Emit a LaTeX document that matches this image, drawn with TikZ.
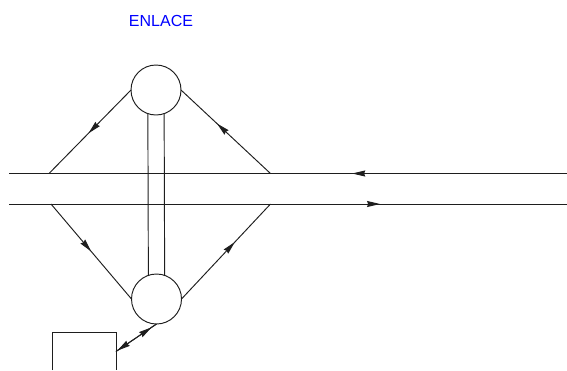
\documentclass[tikz,border=0pt]{standalone}
\usepackage{fontspec}
\setmainfont{Liberation Sans}
\usetikzlibrary{arrows.meta,decorations.markings}
\definecolor{inkline}{RGB}{30,30,30}
\tikzset{
  wire/.style={draw=inkline,line width=0.95pt},
  hub/.style={circle,draw=inkline,line width=0.95pt,minimum size=50pt,inner sep=0pt,outer sep=0pt},
  midhead/.style={postaction={decorate},decoration={markings,mark=at position #1 with {\arrow{Stealth[length=13pt,width=6pt,inset=1pt]}}}}
}
\begin{document}
\begin{tikzpicture}[x=1pt,y=-1pt]
\useasboundingbox (0,0) rectangle (567,370);
\node[text=blue,font=\fontsize{16}{18}\selectfont,inner sep=0pt] (title) at (161,21) {ENLACE};
\node[hub] (top) at (156,90) {};
\node[hub] (bot) at (156.5,299) {};
\coordinate (upL) at (9,173.5);
\coordinate (upR) at (567,173.5);
\coordinate (loL) at (9,204);
\coordinate (loR) at (567,204);
\coordinate (jUL) at (49,173.5);
\coordinate (jUR) at (270.5,173.5);
\coordinate (jLL) at (51,204);
\coordinate (jLR) at (270.5,204);
\coordinate (boxTL) at (52,332);
\coordinate (boxTR) at (116,332);
\coordinate (boxBL) at (52,370);
\coordinate (boxBR) at (116,370);
\coordinate (boxPort) at (116,351.5);
\draw[wire,midhead=0.385] (upR) -- (upL);
\draw[wire,midhead=0.665] (loL) -- (loR);
\draw[wire,midhead=0.52] (top.west) -- (jUL);
\draw[wire,midhead=0.6] (jUR) -- (top.east);
\draw[wire,midhead=0.5] (jLL) -- (bot.west);
\draw[wire,midhead=0.6] (bot.east) -- (jLR);
\draw[wire] (top.251) -- (bot.109);
\draw[wire] (top.289) -- (bot.71);
\draw[wire] (boxBL) -- (boxTL) -- (boxTR) -- (boxBR);
\draw[wire,midhead=0.97] (bot.south) -- (boxPort);
\draw[wire,midhead=0.88] (boxPort) -- (bot.south);
\end{tikzpicture}
\end{document}
